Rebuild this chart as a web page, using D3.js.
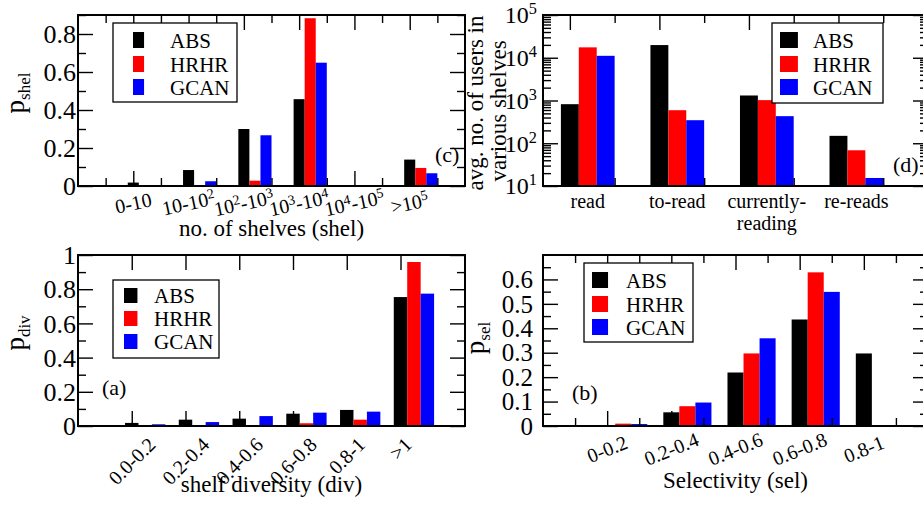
<!DOCTYPE html>
<html><head><meta charset="utf-8">
<script src="https://cdn.jsdelivr.net/npm/d3@7"></script>
<style>
body{margin:0;background:#fff}
svg{display:block}
text{font-family:"Liberation Serif","Times New Roman",serif;fill:#000}
</style>
</head><body>
<script>
// ---------- data ----------
const seriesNames = ["ABS", "HRHR", "GCAN"];
const seriesColors = ["#000000", "#ff0000", "#0000ff"];

// (c) no. of shelves
const shelCats = ["0-10", "10-10^2", "10^2-10^3", "10^3-10^4", "10^4-10^5", ">10^5"];
const shelABS  = [0.018, 0.084, 0.300, 0.457, 0.000, 0.139];
const shelHRHR = [0.002, 0.003, 0.028, 0.883, 0.001, 0.095];
const shelGCAN = [0.003, 0.025, 0.267, 0.649, 0.001, 0.067];
const shelYTicks = [0, 0.2, 0.4, 0.6, 0.8];

// (d) avg. no. of users in various shelves
const shelfCats = ["read", "to-read", "currently-|reading", "re-reads"];
const shelfABS  = [820, 19800, 1310, 149];
const shelfHRHR = [17500, 593, 1020, 68.5];
const shelfGCAN = [11100, 346, 430, 15.4];
const shelfYTicks = [10, 100, 1000, 10000, 100000];

// (a) shelf diversity
const divCats = ["0.0-0.2", "0.2-0.4", "0.4-0.6", "0.6-0.8", "0.8-1", ">1"];
const divABS  = [0.018, 0.037, 0.043, 0.072, 0.094, 0.754];
const divHRHR = [0.002, 0.003, 0.002, 0.016, 0.037, 0.959];
const divGCAN = [0.010, 0.023, 0.058, 0.078, 0.084, 0.774];
const divYTicks = [0, 0.2, 0.4, 0.6, 0.8, 1];

// (b) selectivity
const selCats = ["0-0.2", "0.2-0.4", "0.4-0.6", "0.6-0.8", "0.8-1"];
const selABS  = [0.003, 0.056, 0.219, 0.436, 0.297];
const selHRHR = [0.0096, 0.081, 0.297, 0.629, 0];
const selGCAN = [0.008, 0.096, 0.359, 0.549, 0.001];
const selYTicks = [0, 0.1, 0.2, 0.3, 0.4, 0.5, 0.6];

// ---------- drawing ----------
const svg = d3.select("body").append("svg").attr("width", 923).attr("height", 506)
  .style("background", "#fff");

function rich(textSel, str, supSize, shift) {
  const parts = str.split(/\^(\d+)/);
  let raised = false;
  parts.forEach((p, i) => {
    if (i % 2 === 0) {
      if (p === "") return;
      const t = textSel.append("tspan").text(p);
      if (raised) { t.attr("dy", shift); raised = false; }
    } else {
      textSel.append("tspan").text(p).attr("font-size", supSize).attr("dy", -shift);
      raised = true;
    }
  });
}

function fmt(d) { return d === 0 ? "0" : String(+d.toFixed(2)); }

function panel(cfg) {
  const g = svg.append("g");
  const x = d3.scaleLinear().domain(cfg.xDomain).range([cfg.left, cfg.right]);
  const y = (cfg.log ? d3.scaleLog() : d3.scaleLinear()).domain(cfg.yDomain).range([cfg.bottom, cfg.top]);
  const bw = cfg.bw;
  const bwPx = x(bw) - x(0);
  const base = cfg.yDomain[0];

  // bars
  cfg.values.forEach((vals, s) => {
    g.append("g").selectAll("rect").data(vals.map((v, i) => ({v, i})).filter(d => d.v > base))
      .enter().append("rect")
      .attr("x", d => x(d.i + 1 - bw / 2 + s * bw))
      .attr("width", bwPx)
      .attr("y", d => y(d.v))
      .attr("height", d => Math.max(0.8, y(base) - y(d.v)))
      .attr("fill", seriesColors[s]);
  });

  // ticks (inward, mirrored)
  function tickAxis(axisFn, vals, size, transform) {
    const a = axisFn.tickValues(vals).tickSize(-size).tickSizeOuter(0).tickFormat("");
    const ag = g.append("g").attr("transform", transform).call(a);
    ag.select(".domain").remove();
    ag.selectAll("line").attr("stroke", "#000").attr("stroke-width", 1.4);
  }
  tickAxis(d3.axisBottom(x), cfg.xMajor, 15, `translate(0,${cfg.bottom})`);
  tickAxis(d3.axisTop(x), cfg.xMajor, 15, `translate(0,${cfg.top})`);
  if (cfg.xMinor.length) {
    tickAxis(d3.axisBottom(x), cfg.xMinor, 8, `translate(0,${cfg.bottom})`);
    tickAxis(d3.axisTop(x), cfg.xMinor, 8, `translate(0,${cfg.top})`);
  }
  tickAxis(d3.axisLeft(y), cfg.yMajor, 15, `translate(${cfg.left},0)`);
  tickAxis(d3.axisRight(y), cfg.yMajor, 15, `translate(${cfg.right},0)`);
  tickAxis(d3.axisLeft(y), cfg.yMinor, 8, `translate(${cfg.left},0)`);
  tickAxis(d3.axisRight(y), cfg.yMinor, 8, `translate(${cfg.right},0)`);

  // frame
  g.append("rect").attr("x", cfg.left).attr("y", cfg.top)
    .attr("width", cfg.right - cfg.left).attr("height", cfg.bottom - cfg.top)
    .attr("fill", "none").attr("stroke", "#000").attr("stroke-width", 2);

  // y tick labels
  cfg.yMajor.forEach(v => {
    const t = g.append("text").attr("x", cfg.left - cfg.yLabPad).attr("y", y(v))
      .attr("dy", "0.35em").attr("text-anchor", "end").attr("font-size", cfg.yLabSize);
    if (cfg.log) {
      const e = Math.round(Math.log10(v));
      rich(t, "10^" + e, cfg.yLabSize * 0.68, 9);
    } else {
      t.text(fmt(v));
    }
  });

  // x tick labels
  cfg.cats.forEach((c, i) => {
    const cx = x(i + 1 + cfg.labOffset);
    if (cfg.labRot === 0) {
      c.split("|").forEach((line, k) => {
        g.append("text").attr("x", cx).attr("y", cfg.labY + k * 22)
          .attr("text-anchor", "middle").attr("font-size", cfg.xLabSize).text(line);
      });
    } else {
      const t = g.append("text").attr("text-anchor", "middle").attr("dy", "0.35em")
        .attr("font-size", cfg.xLabSize);
      rich(t, c, cfg.xLabSize * 0.7, 7);
      const w = t.node().getComputedTextLength();
      const a = Math.abs(cfg.labRot) * Math.PI / 180;
      const h = cfg.xLabSize * 0.7;
      const cy = cfg.labTop != null ? cfg.labTop + (w * Math.sin(a) + h * Math.cos(a)) / 2 : cfg.labY;
      t.attr("transform", `translate(${cx},${cy}) rotate(${cfg.labRot})`);
    }
  });

  // x title
  g.append("text").attr("x", (cfg.left + cfg.right) / 2).attr("y", cfg.xTitleY)
    .attr("text-anchor", "middle").attr("font-size", 23).text(cfg.xTitle);

  // y title
  if (cfg.yTitleLines) {
    cfg.yTitleLines.forEach(l => {
      g.append("text").attr("transform", `translate(${l.x},${l.y}) rotate(-90)`)
        .attr("text-anchor", "middle").attr("font-size", 23).text(l.t);
    });
  } else {
    const t = g.append("text").attr("transform", `translate(${cfg.yTitleX},${cfg.yTitleY}) rotate(-90)`)
      .attr("text-anchor", "middle").attr("font-size", 27);
    t.append("tspan").text("p");
    t.append("tspan").text(cfg.yTitleSub).attr("font-size", 17).attr("dy", 6);
  }

  // legend
  const L = cfg.legend;
  g.append("rect").attr("x", L.x0).attr("y", L.y0).attr("width", L.x1 - L.x0).attr("height", L.y1 - L.y0)
    .attr("fill", "#fff").attr("stroke", "#000").attr("stroke-width", 1.3);
  seriesNames.forEach((n, s) => {
    g.append("rect").attr("x", L.sx).attr("y", L.rows[s]).attr("width", bwPx).attr("height", L.sh)
      .attr("fill", seriesColors[s]);
    g.append("text").attr("x", L.tx).attr("y", L.rows[s] + L.sh).attr("font-size", 21).text(n);
  });

  // panel tag
  g.append("text").attr("x", cfg.tag.x).attr("y", cfg.tag.y).attr("font-size", 22).text(cfg.tag.t);
}

const range = (a, b, s) => d3.range(a, b + s / 2, s);

// (c)
panel({
  left: 78, right: 465, top: 15, bottom: 186,
  xDomain: [0, 7], yDomain: [0, 0.9], bw: 0.2,
  values: [shelABS, shelHRHR, shelGCAN], cats: shelCats,
  xMajor: range(1, 6, 1), xMinor: range(0.5, 6.5, 1),
  yMajor: shelYTicks, yMinor: range(0.1, 0.9, 0.2),
  yLabPad: 2, yLabSize: 26,
  labOffset: 0, labRot: -12, labY: 203, xLabSize: 20,
  xTitle: "no. of shelves (shel)", xTitleY: 236,
  yTitleX: 24, yTitleY: 93, yTitleSub: "shel",
  legend: {x0: 113, y0: 23, x1: 237, y1: 102, sx: 133, rows: [32, 56, 79], sh: 16, tx: 170},
  tag: {x: 435, y: 162, t: "(c)"}
});

// (d)
panel({
  left: 543, right: 928, top: 15, bottom: 186, log: true,
  xDomain: [0.7, 5], yDomain: [10, 100000], bw: 0.2,
  values: [shelfABS, shelfHRHR, shelfGCAN], cats: shelfCats,
  xMajor: range(1, 5, 1), xMinor: range(1.5, 4.5, 1),
  yMajor: shelfYTicks,
  yMinor: [1, 2, 3, 4].flatMap(e => d3.range(2, 10).map(m => m * Math.pow(10, e))),
  yLabPad: 6, yLabSize: 24,
  labOffset: 0.2, labRot: 0, labY: 208, xLabSize: 20,
  xTitle: "",  xTitleY: 236,
  yTitleLines: [{t: "avg. no. of users in", x: 483, y: 103}, {t: "various shelves", x: 506, y: 111}],
  legend: {x0: 772, y0: 23, x1: 883, y1: 103, sx: 780, rows: [32, 56, 79], sh: 16, tx: 813},
  tag: {x: 893, y: 172, t: "(d)"}
});

// (a)
panel({
  left: 78, right: 465, top: 255, bottom: 426,
  xDomain: [0, 7.2], yDomain: [0, 1], bw: 0.25,
  values: [divABS, divHRHR, divGCAN], cats: divCats,
  xMajor: range(1, 6, 1), xMinor: [],
  yMajor: divYTicks, yMinor: range(0.1, 0.9, 0.2),
  yLabPad: 2, yLabSize: 26,
  labOffset: 0, labRot: -45, labTop: 436, xLabSize: 20,
  xTitle: "shelf diversity (div)", xTitleY: 492,
  yTitleX: 24, yTitleY: 333, yTitleSub: "div",
  legend: {x0: 113, y0: 280, x1: 219, y1: 358, sx: 124, rows: [288, 311, 334], sh: 15, tx: 154},
  tag: {x: 102, y: 395, t: "(a)"}
});

// (b)
panel({
  left: 543, right: 928, top: 255, bottom: 426,
  xDomain: [0, 6], yDomain: [0, 0.7], bw: 0.25,
  values: [selABS, selHRHR, selGCAN], cats: selCats,
  xMajor: range(1, 5, 1), xMinor: range(0.5, 5.5, 1),
  yMajor: selYTicks, yMinor: range(0.05, 0.65, 0.1),
  yLabPad: 10, yLabSize: 25,
  labOffset: 0, labRot: -22, labY: 449, xLabSize: 20,
  xTitle: "Selectivity (sel)", xTitleY: 488,
  yTitleX: 484, yTitleY: 338, yTitleSub: "sel",
  legend: {x0: 584, y0: 263, x1: 693, y1: 342, sx: 592, rows: [272, 296, 319], sh: 16, tx: 626},
  tag: {x: 572, y: 400, t: "(b)"}
});
</script>
</body></html>
